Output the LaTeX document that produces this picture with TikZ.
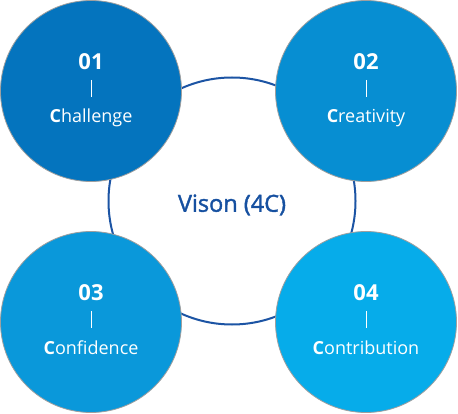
\documentclass[tikz,border=0pt]{standalone}
\usepackage{fontspec}
\setmainfont{Open Sans}
\newfontfamily\visionfont[FakeBold=1.6]{Open Sans}
\usetikzlibrary{positioning}
\definecolor{vision1}{RGB}{4,116,190}
\definecolor{vision2}{RGB}{7,142,210}
\definecolor{vision3}{RGB}{10,152,218}
\definecolor{vision4}{RGB}{6,172,234}
\definecolor{ringblue}{RGB}{28,84,164}
\definecolor{visiontext}{RGB}{22,80,160}

\begin{document}
\begin{tikzpicture}[
  x=1pt, y=-1pt,
  bubble/.style={circle, draw=gray!75, line width=0.8pt, fill=#1,
    minimum size=181pt, inner sep=0pt},
  bubblenum/.style={anchor=base, text=white,
    font=\bfseries\fontsize{22}{22}\selectfont},
  bubbleword/.style={anchor=base, text=white,
    font=\fontsize{18}{18}\selectfont}
]
  \useasboundingbox (0,0) rectangle (458,414);

  % Vision ring
  \node[circle, draw=ringblue, line width=2pt, minimum size=247pt,
    inner sep=0pt] (ring) at (232,201) {};
  \node[text=visiontext, font=\visionfont\fontsize{23.5}{24}\selectfont]
    (vision) at (232,205) {Vison (4C)};

  % The four C's
  \foreach \i/\x/\y/\num/\rest in {1/91/91/01/hallenge, 2/366/91/02/reativity,
      3/91/322/03/onfidence, 4/366/322/04/ontribution} {
    \node[bubble=vision\i] (b\i) at (\x,\y) {};
    \node[bubblenum] (n\i) at (\x,\y-21) {\num};
    \draw[white, line width=0.8pt]
      ([yshift=11pt]b\i.center) -- ([yshift=-6pt]b\i.center);
    \node[bubbleword] (w\i) at (\x,\y+32) {\textbf{C}\rest};
  }
\end{tikzpicture}
\end{document}
